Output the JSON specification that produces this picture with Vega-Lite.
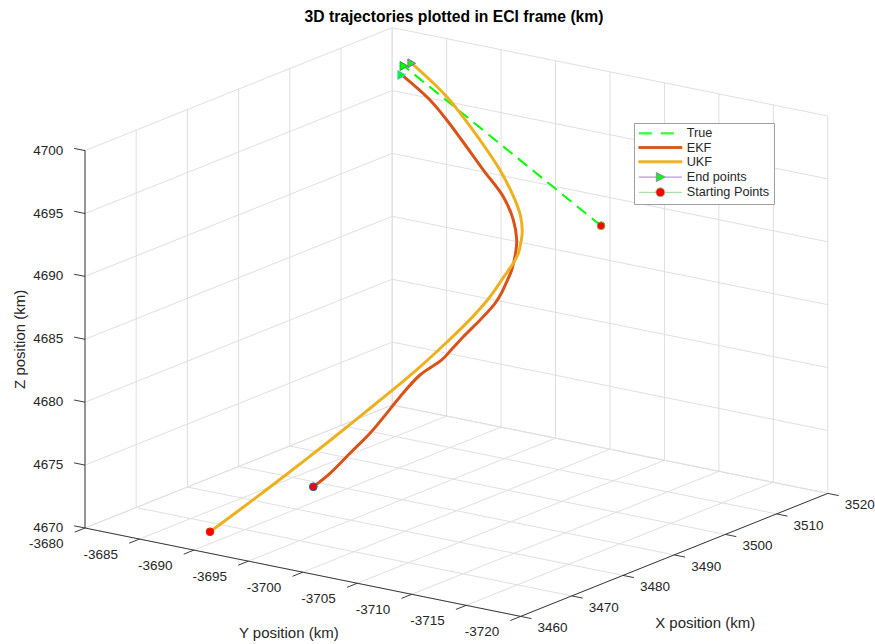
{
  "$schema": "https://vega.github.io/schema/vega-lite/v6.json",
  "width": 875,
  "height": 644,
  "autosize": {"type": "none"},
  "padding": 0,
  "background": "#ffffff",
  "config": {
    "view": {"stroke": null},
    "legend": {"orient": "none", "legendX": 634, "legendY": 123, "padding": 4, "strokeColor": "#a0a0a0", "fillColor": "#ffffff",
      "labelFont": "Liberation Sans", "labelFontSize": 12.7, "labelColor": "#262626",
      "symbolSize": 100, "symbolOffset": 16, "labelOffset": 20, "rowPadding": 0.25, "symbolStrokeWidth": 1}
  },
  "title": {"text": "3D trajectories plotted in ECI frame (km)", "frame": "group", "anchor": "middle", "font": "Liberation Sans", "fontSize": 15.7, "fontWeight": "bold", "color": "#000000", "offset": 0, "baseline": "alphabetic", "dy": 38, "dx": 16.5},
  "data": {"values": [
    {"set":"grid","X":3460,"Y":-3680,"Z":4670,"X2":3460,"Y2":-3720,"Z2":4670},
    {"set":"grid","X":3470,"Y":-3680,"Z":4670,"X2":3470,"Y2":-3720,"Z2":4670},
    {"set":"grid","X":3480,"Y":-3680,"Z":4670,"X2":3480,"Y2":-3720,"Z2":4670},
    {"set":"grid","X":3490,"Y":-3680,"Z":4670,"X2":3490,"Y2":-3720,"Z2":4670},
    {"set":"grid","X":3500,"Y":-3680,"Z":4670,"X2":3500,"Y2":-3720,"Z2":4670},
    {"set":"grid","X":3510,"Y":-3680,"Z":4670,"X2":3510,"Y2":-3720,"Z2":4670},
    {"set":"grid","X":3520,"Y":-3680,"Z":4670,"X2":3520,"Y2":-3720,"Z2":4670},
    {"set":"grid","X":3460,"Y":-3680,"Z":4670,"X2":3520,"Y2":-3680,"Z2":4670},
    {"set":"grid","X":3460,"Y":-3685,"Z":4670,"X2":3520,"Y2":-3685,"Z2":4670},
    {"set":"grid","X":3460,"Y":-3690,"Z":4670,"X2":3520,"Y2":-3690,"Z2":4670},
    {"set":"grid","X":3460,"Y":-3695,"Z":4670,"X2":3520,"Y2":-3695,"Z2":4670},
    {"set":"grid","X":3460,"Y":-3700,"Z":4670,"X2":3520,"Y2":-3700,"Z2":4670},
    {"set":"grid","X":3460,"Y":-3705,"Z":4670,"X2":3520,"Y2":-3705,"Z2":4670},
    {"set":"grid","X":3460,"Y":-3710,"Z":4670,"X2":3520,"Y2":-3710,"Z2":4670},
    {"set":"grid","X":3460,"Y":-3715,"Z":4670,"X2":3520,"Y2":-3715,"Z2":4670},
    {"set":"grid","X":3460,"Y":-3720,"Z":4670,"X2":3520,"Y2":-3720,"Z2":4670},
    {"set":"grid","X":3460,"Y":-3680,"Z":4670,"X2":3460,"Y2":-3680,"Z2":4700},
    {"set":"grid","X":3470,"Y":-3680,"Z":4670,"X2":3470,"Y2":-3680,"Z2":4700},
    {"set":"grid","X":3480,"Y":-3680,"Z":4670,"X2":3480,"Y2":-3680,"Z2":4700},
    {"set":"grid","X":3490,"Y":-3680,"Z":4670,"X2":3490,"Y2":-3680,"Z2":4700},
    {"set":"grid","X":3500,"Y":-3680,"Z":4670,"X2":3500,"Y2":-3680,"Z2":4700},
    {"set":"grid","X":3510,"Y":-3680,"Z":4670,"X2":3510,"Y2":-3680,"Z2":4700},
    {"set":"grid","X":3520,"Y":-3680,"Z":4670,"X2":3520,"Y2":-3680,"Z2":4700},
    {"set":"grid","X":3460,"Y":-3680,"Z":4670,"X2":3520,"Y2":-3680,"Z2":4670},
    {"set":"grid","X":3460,"Y":-3680,"Z":4675,"X2":3520,"Y2":-3680,"Z2":4675},
    {"set":"grid","X":3460,"Y":-3680,"Z":4680,"X2":3520,"Y2":-3680,"Z2":4680},
    {"set":"grid","X":3460,"Y":-3680,"Z":4685,"X2":3520,"Y2":-3680,"Z2":4685},
    {"set":"grid","X":3460,"Y":-3680,"Z":4690,"X2":3520,"Y2":-3680,"Z2":4690},
    {"set":"grid","X":3460,"Y":-3680,"Z":4695,"X2":3520,"Y2":-3680,"Z2":4695},
    {"set":"grid","X":3460,"Y":-3680,"Z":4700,"X2":3520,"Y2":-3680,"Z2":4700},
    {"set":"grid","X":3520,"Y":-3680,"Z":4670,"X2":3520,"Y2":-3680,"Z2":4700},
    {"set":"grid","X":3520,"Y":-3685,"Z":4670,"X2":3520,"Y2":-3685,"Z2":4700},
    {"set":"grid","X":3520,"Y":-3690,"Z":4670,"X2":3520,"Y2":-3690,"Z2":4700},
    {"set":"grid","X":3520,"Y":-3695,"Z":4670,"X2":3520,"Y2":-3695,"Z2":4700},
    {"set":"grid","X":3520,"Y":-3700,"Z":4670,"X2":3520,"Y2":-3700,"Z2":4700},
    {"set":"grid","X":3520,"Y":-3705,"Z":4670,"X2":3520,"Y2":-3705,"Z2":4700},
    {"set":"grid","X":3520,"Y":-3710,"Z":4670,"X2":3520,"Y2":-3710,"Z2":4700},
    {"set":"grid","X":3520,"Y":-3715,"Z":4670,"X2":3520,"Y2":-3715,"Z2":4700},
    {"set":"grid","X":3520,"Y":-3720,"Z":4670,"X2":3520,"Y2":-3720,"Z2":4700},
    {"set":"grid","X":3520,"Y":-3680,"Z":4670,"X2":3520,"Y2":-3720,"Z2":4670},
    {"set":"grid","X":3520,"Y":-3680,"Z":4675,"X2":3520,"Y2":-3720,"Z2":4675},
    {"set":"grid","X":3520,"Y":-3680,"Z":4680,"X2":3520,"Y2":-3720,"Z2":4680},
    {"set":"grid","X":3520,"Y":-3680,"Z":4685,"X2":3520,"Y2":-3720,"Z2":4685},
    {"set":"grid","X":3520,"Y":-3680,"Z":4690,"X2":3520,"Y2":-3720,"Z2":4690},
    {"set":"grid","X":3520,"Y":-3680,"Z":4695,"X2":3520,"Y2":-3720,"Z2":4695},
    {"set":"grid","X":3520,"Y":-3680,"Z":4700,"X2":3520,"Y2":-3720,"Z2":4700},

    {"set":"axis","X":3460,"Y":-3680,"Z":4670,"X2":3460,"Y2":-3680,"Z2":4700},
    {"set":"axis","X":3460,"Y":-3680,"Z":4670,"X2":3460,"Y2":-3720,"Z2":4670},
    {"set":"axis","X":3460,"Y":-3720,"Z":4670,"X2":3520,"Y2":-3720,"Z2":4670},

    {"set":"tick","X":3460,"Y":-3680,"Z":4670,"X2":3460,"Y2":-3679,"Z2":4670},
    {"set":"tick","X":3460,"Y":-3680,"Z":4675,"X2":3460,"Y2":-3679,"Z2":4675},
    {"set":"tick","X":3460,"Y":-3680,"Z":4680,"X2":3460,"Y2":-3679,"Z2":4680},
    {"set":"tick","X":3460,"Y":-3680,"Z":4685,"X2":3460,"Y2":-3679,"Z2":4685},
    {"set":"tick","X":3460,"Y":-3680,"Z":4690,"X2":3460,"Y2":-3679,"Z2":4690},
    {"set":"tick","X":3460,"Y":-3680,"Z":4695,"X2":3460,"Y2":-3679,"Z2":4695},
    {"set":"tick","X":3460,"Y":-3680,"Z":4700,"X2":3460,"Y2":-3679,"Z2":4700},
    {"set":"tick","X":3460,"Y":-3680,"Z":4670,"X2":3458,"Y2":-3680,"Z2":4670},
    {"set":"tick","X":3460,"Y":-3685,"Z":4670,"X2":3458,"Y2":-3685,"Z2":4670},
    {"set":"tick","X":3460,"Y":-3690,"Z":4670,"X2":3458,"Y2":-3690,"Z2":4670},
    {"set":"tick","X":3460,"Y":-3695,"Z":4670,"X2":3458,"Y2":-3695,"Z2":4670},
    {"set":"tick","X":3460,"Y":-3700,"Z":4670,"X2":3458,"Y2":-3700,"Z2":4670},
    {"set":"tick","X":3460,"Y":-3705,"Z":4670,"X2":3458,"Y2":-3705,"Z2":4670},
    {"set":"tick","X":3460,"Y":-3710,"Z":4670,"X2":3458,"Y2":-3710,"Z2":4670},
    {"set":"tick","X":3460,"Y":-3715,"Z":4670,"X2":3458,"Y2":-3715,"Z2":4670},
    {"set":"tick","X":3460,"Y":-3720,"Z":4670,"X2":3458,"Y2":-3720,"Z2":4670},
    {"set":"tick","X":3460,"Y":-3720,"Z":4670,"X2":3460,"Y2":-3721,"Z2":4670},
    {"set":"tick","X":3470,"Y":-3720,"Z":4670,"X2":3470,"Y2":-3721,"Z2":4670},
    {"set":"tick","X":3480,"Y":-3720,"Z":4670,"X2":3480,"Y2":-3721,"Z2":4670},
    {"set":"tick","X":3490,"Y":-3720,"Z":4670,"X2":3490,"Y2":-3721,"Z2":4670},
    {"set":"tick","X":3500,"Y":-3720,"Z":4670,"X2":3500,"Y2":-3721,"Z2":4670},
    {"set":"tick","X":3510,"Y":-3720,"Z":4670,"X2":3510,"Y2":-3721,"Z2":4670},
    {"set":"tick","X":3520,"Y":-3720,"Z":4670,"X2":3520,"Y2":-3721,"Z2":4670},

    {"set":"label","axis":"Z","kind":"tick","text":"4670","X":3460,"Y":-3680,"Z":4670},
    {"set":"label","axis":"Z","kind":"tick","text":"4675","X":3460,"Y":-3680,"Z":4675},
    {"set":"label","axis":"Z","kind":"tick","text":"4680","X":3460,"Y":-3680,"Z":4680},
    {"set":"label","axis":"Z","kind":"tick","text":"4685","X":3460,"Y":-3680,"Z":4685},
    {"set":"label","axis":"Z","kind":"tick","text":"4690","X":3460,"Y":-3680,"Z":4690},
    {"set":"label","axis":"Z","kind":"tick","text":"4695","X":3460,"Y":-3680,"Z":4695},
    {"set":"label","axis":"Z","kind":"tick","text":"4700","X":3460,"Y":-3680,"Z":4700},
    {"set":"label","axis":"Y","kind":"tick","text":"-3680","X":3460,"Y":-3680,"Z":4670},
    {"set":"label","axis":"Y","kind":"tick","text":"-3685","X":3460,"Y":-3685,"Z":4670},
    {"set":"label","axis":"Y","kind":"tick","text":"-3690","X":3460,"Y":-3690,"Z":4670},
    {"set":"label","axis":"Y","kind":"tick","text":"-3695","X":3460,"Y":-3695,"Z":4670},
    {"set":"label","axis":"Y","kind":"tick","text":"-3700","X":3460,"Y":-3700,"Z":4670},
    {"set":"label","axis":"Y","kind":"tick","text":"-3705","X":3460,"Y":-3705,"Z":4670},
    {"set":"label","axis":"Y","kind":"tick","text":"-3710","X":3460,"Y":-3710,"Z":4670},
    {"set":"label","axis":"Y","kind":"tick","text":"-3715","X":3460,"Y":-3715,"Z":4670},
    {"set":"label","axis":"Y","kind":"tick","text":"-3720","X":3460,"Y":-3720,"Z":4670},
    {"set":"label","axis":"X","kind":"tick","text":"3460","X":3460,"Y":-3720,"Z":4670},
    {"set":"label","axis":"X","kind":"tick","text":"3470","X":3470,"Y":-3720,"Z":4670},
    {"set":"label","axis":"X","kind":"tick","text":"3480","X":3480,"Y":-3720,"Z":4670},
    {"set":"label","axis":"X","kind":"tick","text":"3490","X":3490,"Y":-3720,"Z":4670},
    {"set":"label","axis":"X","kind":"tick","text":"3500","X":3500,"Y":-3720,"Z":4670},
    {"set":"label","axis":"X","kind":"tick","text":"3510","X":3510,"Y":-3720,"Z":4670},
    {"set":"label","axis":"X","kind":"tick","text":"3520","X":3520,"Y":-3720,"Z":4670},
    {"set":"label","axis":"Z","kind":"title","text":"Z position (km)","X":3460,"Y":-3680,"Z":4685},
    {"set":"label","axis":"Y","kind":"title","text":"Y position (km)","X":3460,"Y":-3700,"Z":4670},
    {"set":"label","axis":"X","kind":"title","text":"X position (km)","X":3490,"Y":-3720,"Z":4670},

    {"set":"traj","series":"True","i":1,"X":3500,"Y":-3708.58,"Z":4692.53},
    {"set":"traj","series":"True","i":2,"X":3518,"Y":-3682.02,"Z":4697.63},

    {"set":"traj","series":"EKF","i":1,"X":3480,"Y":-3691.56,"Z":4672.05},
    {"set":"traj","series":"EKF","i":2,"X":3481.7,"Y":-3692.30,"Z":4672.97},
    {"set":"traj","series":"EKF","i":3,"X":3483.4,"Y":-3693.33,"Z":4674.47},
    {"set":"traj","series":"EKF","i":4,"X":3485.1,"Y":-3694.37,"Z":4675.96},
    {"set":"traj","series":"EKF","i":5,"X":3486.8,"Y":-3695.10,"Z":4677.40},
    {"set":"traj","series":"EKF","i":6,"X":3488.5,"Y":-3695.53,"Z":4678.52},
    {"set":"traj","series":"EKF","i":7,"X":3490.2,"Y":-3696.56,"Z":4680.15},
    {"set":"traj","series":"EKF","i":8,"X":3491.9,"Y":-3697.76,"Z":4681.28},
    {"set":"traj","series":"EKF","i":9,"X":3493.6,"Y":-3697.90,"Z":4681.90},
    {"set":"traj","series":"EKF","i":10,"X":3495.3,"Y":-3698.14,"Z":4682.64},
    {"set":"traj","series":"EKF","i":11,"X":3497,"Y":-3698.88,"Z":4683.82},
    {"set":"traj","series":"EKF","i":12,"X":3498.7,"Y":-3699.46,"Z":4684.97},
    {"set":"traj","series":"EKF","i":13,"X":3500.4,"Y":-3699.30,"Z":4685.57},
    {"set":"traj","series":"EKF","i":14,"X":3502.1,"Y":-3698.96,"Z":4686.10},
    {"set":"traj","series":"EKF","i":15,"X":3503.8,"Y":-3698.59,"Z":4686.64},
    {"set":"traj","series":"EKF","i":16,"X":3505.5,"Y":-3698.19,"Z":4687.88},
    {"set":"traj","series":"EKF","i":17,"X":3507.2,"Y":-3697.45,"Z":4688.27},
    {"set":"traj","series":"EKF","i":18,"X":3508.9,"Y":-3696.34,"Z":4689.39},
    {"set":"traj","series":"EKF","i":19,"X":3510.6,"Y":-3694.62,"Z":4690.66},
    {"set":"traj","series":"EKF","i":20,"X":3512.3,"Y":-3691.99,"Z":4692.04},
    {"set":"traj","series":"EKF","i":21,"X":3514,"Y":-3689.20,"Z":4693.66},
    {"set":"traj","series":"EKF","i":22,"X":3515.7,"Y":-3687.03,"Z":4694.59},
    {"set":"traj","series":"EKF","i":23,"X":3517.4,"Y":-3684.69,"Z":4695.49},
    {"set":"traj","series":"EKF","i":24,"X":3519.1,"Y":-3681.30,"Z":4696.61},

    {"set":"traj","series":"UKF","i":1,"X":3467,"Y":-3688.19,"Z":4670.00},
    {"set":"traj","series":"UKF","i":2,"X":3469.5,"Y":-3691.30,"Z":4672.89},
    {"set":"traj","series":"UKF","i":3,"X":3472,"Y":-3692.88,"Z":4674.58},
    {"set":"traj","series":"UKF","i":4,"X":3474.5,"Y":-3695.07,"Z":4676.82},
    {"set":"traj","series":"UKF","i":5,"X":3477,"Y":-3696.96,"Z":4678.86},
    {"set":"traj","series":"UKF","i":6,"X":3479.5,"Y":-3697.92,"Z":4680.13},
    {"set":"traj","series":"UKF","i":7,"X":3482,"Y":-3698.89,"Z":4681.41},
    {"set":"traj","series":"UKF","i":8,"X":3484.5,"Y":-3699.24,"Z":4682.19},
    {"set":"traj","series":"UKF","i":9,"X":3487,"Y":-3700.52,"Z":4683.97},
    {"set":"traj","series":"UKF","i":10,"X":3489.5,"Y":-3701.48,"Z":4685.53},
    {"set":"traj","series":"UKF","i":11,"X":3492,"Y":-3702.15,"Z":4687.06},
    {"set":"traj","series":"UKF","i":12,"X":3494.5,"Y":-3702.04,"Z":4687.96},
    {"set":"traj","series":"UKF","i":13,"X":3497,"Y":-3701.93,"Z":4688.87},
    {"set":"traj","series":"UKF","i":14,"X":3499.5,"Y":-3701.22,"Z":4689.13},
    {"set":"traj","series":"UKF","i":15,"X":3502,"Y":-3700.32,"Z":4689.62},
    {"set":"traj","series":"UKF","i":16,"X":3504.5,"Y":-3699.23,"Z":4689.68},
    {"set":"traj","series":"UKF","i":17,"X":3507,"Y":-3697.91,"Z":4690.23},
    {"set":"traj","series":"UKF","i":18,"X":3509.5,"Y":-3696.21,"Z":4690.86},
    {"set":"traj","series":"UKF","i":19,"X":3512,"Y":-3693.66,"Z":4692.38},
    {"set":"traj","series":"UKF","i":20,"X":3514.5,"Y":-3690.65,"Z":4693.83},
    {"set":"traj","series":"UKF","i":21,"X":3517,"Y":-3686.42,"Z":4696.12},
    {"set":"traj","series":"UKF","i":22,"X":3519.5,"Y":-3682.03,"Z":4697.60},

    {"set":"marker","kind":"end","point":"True end","X":3518,"Y":-3682.02,"Z":4697.63},
    {"set":"marker","kind":"end","point":"EKF end","X":3519.1,"Y":-3681.30,"Z":4696.61},
    {"set":"marker","kind":"end","point":"UKF end","X":3519.5,"Y":-3682.03,"Z":4697.60},
    {"set":"marker","kind":"start","point":"True start","X":3500,"Y":-3708.58,"Z":4692.53},
    {"set":"marker","kind":"start","point":"EKF start","X":3480,"Y":-3691.56,"Z":4672.05},
    {"set":"marker","kind":"start","point":"UKF start","X":3467,"Y":-3688.19,"Z":4670.00}
  ]},
  "transform": [
    {"calculate": "85 + (-3680 - datum.Y) * 10.89 + (datum.X - 3460) * 5.12", "as": "px"},
    {"calculate": "528 + (-3680 - datum.Y) * 2.21 - (datum.X - 3460) * 2.05 - (datum.Z - 4670) * 12.58", "as": "py"},
    {"calculate": "85 + (-3680 - datum.Y2) * 10.89 + (datum.X2 - 3460) * 5.12", "as": "px2"},
    {"calculate": "528 + (-3680 - datum.Y2) * 2.21 - (datum.X2 - 3460) * 2.05 - (datum.Z2 - 4670) * 12.58", "as": "py2"}
  ],
  "encoding": {
    "x": {"field": "px", "type": "quantitative", "scale": {"domain": [0, 875], "nice": false, "zero": false}, "axis": null},
    "y": {"field": "py", "type": "quantitative", "scale": {"domain": [0, 644], "nice": false, "zero": false, "reverse": true}, "axis": null}
  },
  "layer": [
    {
      "transform": [{"filter": "datum.set === 'grid'"}],
      "mark": {"type": "rule", "color": "#dfdfdf", "strokeWidth": 1},
      "encoding": {"x2": {"field": "px2"}, "y2": {"field": "py2"}}
    },
    {
      "transform": [{"filter": "datum.set === 'axis' || datum.set === 'tick'"}],
      "mark": {"type": "rule", "color": "#262626", "strokeWidth": 0.9},
      "encoding": {"x2": {"field": "px2"}, "y2": {"field": "py2"}}
    },
    {
      "transform": [{"filter": "datum.set === 'label' && datum.kind === 'tick' && datum.axis === 'Z'"}],
      "mark": {"type": "text", "align": "right", "baseline": "middle", "dx": -21.7, "font": "Liberation Sans", "fontSize": 13.5, "color": "#262626"},
      "encoding": {"text": {"field": "text"}}
    },
    {
      "transform": [{"filter": "datum.set === 'label' && datum.kind === 'tick' && datum.axis === 'Y'"}],
      "mark": {"type": "text", "align": "center", "baseline": "middle", "dx": -38.7, "dy": 16, "font": "Liberation Sans", "fontSize": 13.5, "color": "#262626"},
      "encoding": {"text": {"field": "text"}}
    },
    {
      "transform": [{"filter": "datum.set === 'label' && datum.kind === 'tick' && datum.axis === 'X'"}],
      "mark": {"type": "text", "align": "center", "baseline": "middle", "dx": 32, "dy": 11.8, "font": "Liberation Sans", "fontSize": 13.5, "color": "#262626"},
      "encoding": {"text": {"field": "text"}}
    },
    {
      "transform": [{"filter": "datum.set === 'label' && datum.kind === 'title' && datum.axis === 'Z'"}],
      "mark": {"type": "text", "align": "center", "baseline": "middle", "angle": 270, "dy": -65, "font": "Liberation Sans", "fontSize": 15, "color": "#262626"},
      "encoding": {"text": {"field": "text"}}
    },
    {
      "transform": [{"filter": "datum.set === 'label' && datum.kind === 'title' && datum.axis === 'Y'"}],
      "mark": {"type": "text", "align": "center", "baseline": "middle", "dx": -14, "dy": 60.5, "font": "Liberation Sans", "fontSize": 15, "color": "#262626"},
      "encoding": {"text": {"field": "text"}}
    },
    {
      "transform": [{"filter": "datum.set === 'label' && datum.kind === 'title' && datum.axis === 'X'"}],
      "mark": {"type": "text", "align": "center", "baseline": "middle", "dx": 31, "dy": 68.5, "font": "Liberation Sans", "fontSize": 15, "color": "#262626"},
      "encoding": {"text": {"field": "text"}}
    },
    {
      "transform": [{"filter": "false"}],
      "mark": {"type": "point", "filled": false, "size": 100, "strokeWidth": 1, "opacity": 1},
      "encoding": {
        "color": {"field": "series", "type": "nominal", "legend": {"title": null},
          "scale": {"domain": ["True", "EKF", "UKF", "End points", "Starting Points"], "range": ["#00ff00", "#d95319", "#edb120", "#9b6fd6", "#8fd48f"]}},
        "fill": {"field": "series", "type": "nominal", "legend": {"title": null},
          "scale": {"domain": ["True", "EKF", "UKF", "End points", "Starting Points"], "range": ["transparent", "#d95319", "#edb120", "#00ff00", "#ff0000"]}},
        "shape": {"field": "series", "type": "nominal", "legend": {"title": null},
          "scale": {"domain": ["True", "EKF", "UKF", "End points", "Starting Points"], "range": [
            "M-4.3,-0.1H4.3M-4.3,0.1H4.3",
            "M-4.3,-0.2H4.3V0.2H-4.3Z",
            "M-4.3,-0.2H4.3V0.2H-4.3Z",
            "M-4.3,0H-0.8M1,0H4.3M-0.8,-0.9L1,0L-0.8,0.9Z",
            "M-4.3,0H-0.9M0.9,0H4.3M-0.9,0A0.9,0.9,0,1,1,0.9,0A0.9,0.9,0,1,1,-0.9,0Z"]}},
        "strokeDash": {"field": "series", "type": "nominal", "legend": {"title": null},
          "scale": {"domain": ["True", "EKF", "UKF", "End points", "Starting Points"], "range": [[13, 9], [1, 0], [1, 0], [1, 0], [1, 0]]}}
      }
    },
    {
      "transform": [{"filter": "datum.set === 'traj' && datum.series === 'True'"}],
      "mark": {"type": "line", "strokeWidth": 2, "strokeDash": [12, 7]},
      "encoding": {
        "order": {"field": "i", "type": "quantitative"},
        "color": {"field": "series", "type": "nominal", "legend": {"title": null}}
      }
    },
    {
      "transform": [{"filter": "datum.set === 'traj' && datum.series !== 'True'"}],
      "mark": {"type": "line", "strokeWidth": 3, "interpolate": "catmull-rom"},
      "encoding": {
        "order": {"field": "i", "type": "quantitative"},
        "color": {"field": "series", "type": "nominal", "legend": {"title": null}}
      }
    },
    {
      "transform": [{"filter": "datum.set === 'marker' && datum.kind === 'end'"}],
      "mark": {"type": "point", "shape": "triangle-right", "filled": true, "fill": "#00ff00", "fillOpacity": 1, "size": 80, "strokeWidth": 1, "opacity": 1},
      "encoding": {
        "stroke": {"field": "point", "type": "nominal", "legend": null,
          "scale": {"domain": ["True end", "EKF end", "UKF end", "True start", "EKF start", "UKF start"], "range": ["#2e9e2e", "#4dbeee", "#b24dd9", "#77ac30", "#0072bd", "#e03010"]}}
      }
    },
    {
      "transform": [{"filter": "datum.set === 'marker' && datum.kind === 'start'"}],
      "mark": {"type": "point", "shape": "circle", "filled": true, "fill": "#ff0000", "fillOpacity": 1, "size": 60, "strokeWidth": 1, "opacity": 1},
      "encoding": {
        "stroke": {"field": "point", "type": "nominal", "legend": null}
      }
    }
  ]
}
